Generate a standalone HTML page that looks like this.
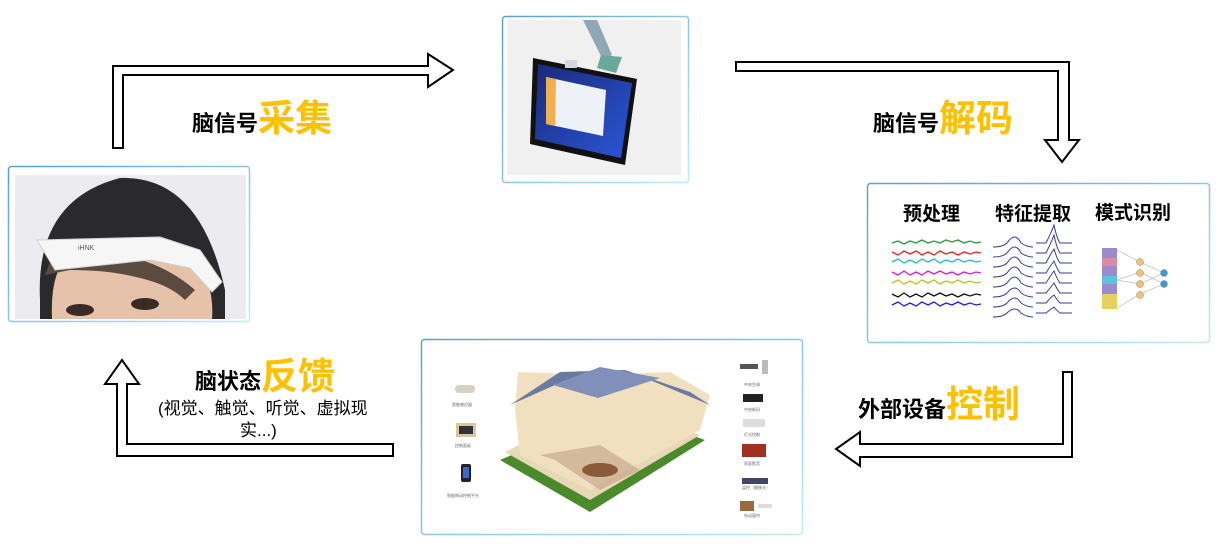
<!DOCTYPE html>
<html><head><meta charset="utf-8"><style>
html,body{margin:0;padding:0;background:#fff;}
svg{display:block;}
text{font-family:"Liberation Sans","Noto Sans CJK SC",sans-serif;}
</style></head><body>
<svg width="1227" height="548" viewBox="0 0 1227 548" xmlns="http://www.w3.org/2000/svg">
<defs>
<linearGradient id="bd" x1="0" y1="0" x2="1" y2="1"><stop offset="0" stop-color="#5aa0d0"/><stop offset="1" stop-color="#bfeafc"/></linearGradient>
<linearGradient id="scr" x1="0" y1="0" x2="1" y2="1"><stop offset="0" stop-color="#1a2a7a"/><stop offset="1" stop-color="#2b56d8"/></linearGradient>
</defs>
<!-- arrows -->
<g fill="#fff" stroke="#000" stroke-width="2">
<polygon points="113,148 113,66 428,66 428,54 453,70 428,87 428,75 123,75 123,148"/>
<polygon points="736,62 1069,62 1069,140 1079,140 1062,162 1045,140 1058,140 1058,71 736,71"/>
<polygon points="1063,372 1072,372 1072,457 860,457 860,466 836,449 860,432 860,444 1063,444"/>
<polygon points="393,444 127,444 127,384 139,384 122,360 105,384 117,384 117,456 393,456"/>
</g>
<!-- face box -->
<rect x="8.5" y="166.5" width="241" height="155" rx="3" fill="#fff" stroke="url(#bd)" stroke-width="1.5"/>
<rect x="15" y="175" width="231" height="144" fill="#ececf0"/>
<clipPath id="fc"><rect x="15" y="175" width="231" height="144"/></clipPath>
<g clip-path="url(#fc)">
<path d="M40,300 Q35,200 120,178 Q200,175 225,290 L225,319 L40,319 Z" fill="#2a2a2c"/>
<path d="M52,319 Q50,270 70,255 L190,255 Q215,280 212,319 Z" fill="#e6c2aa"/>
<path d="M50,262 Q110,250 135,258 Q170,268 195,290 L185,300 Q170,285 140,278 Q110,270 70,270 L45,275 Z" fill="#5a4a40"/>
<path d="M37,240 L160,237 L200,250 L222,282 L212,292 L190,268 L150,260 L55,270 Z" fill="#f6f6f6" stroke="#d0d0d0"/>
<text x="78" y="250" font-size="7" fill="#555">iHNK</text>
<ellipse cx="80" cy="310" rx="14" ry="6" fill="#3a2a25"/>
<ellipse cx="145" cy="304" rx="14" ry="6" fill="#3a2a25"/>
</g>
<!-- tablet box -->
<rect x="502.5" y="16.5" width="186" height="166" rx="3" fill="#fff" stroke="url(#bd)" stroke-width="1.5"/>
<rect x="507" y="20" width="174" height="155" fill="#f0f0f0"/>
<polygon points="583,20 597,20 612,55 603,60" fill="#8fa8b4"/>
<polygon points="601,55 622,57 616,73 597,68" fill="#6aa89c"/>
<polygon points="533,58 637,79 625,165 530,144" fill="#111"/>
<polygon points="538,64 632,83 621,158 535,139" fill="url(#scr)"/>
<polygon points="546,77 606,90 603,136 546,124" fill="#eef2f8"/>
<polygon points="546,77 556,79 555,126 546,124" fill="#f0b050"/>
<rect x="565" y="60" width="12" height="8" fill="#cfd8e0"/>
<!-- decode box -->
<rect x="867.5" y="183.5" width="342" height="159" rx="3" fill="#fff" stroke="url(#bd)" stroke-width="1.5"/>
<text x="903" y="220" font-size="19" font-weight="bold" fill="#000">预处理</text>
<text x="995" y="220" font-size="19" font-weight="bold" fill="#000">特征提取</text>
<text x="1095" y="219" font-size="19" font-weight="bold" fill="#000">模式识别</text>
<g fill="none" stroke-width="1.3">
<path d="M892,243 l6,-2 6,3 6,-3 6,2 6,-3 6,3 6,-2 6,2 6,-3 6,2 6,-2 6,3 6,-2 6,2 5,-1" stroke="#2a9a3a"/>
<path d="M892,252 l6,3 6,-4 6,3 6,-3 6,4 6,-3 6,3 6,-4 6,3 6,-2 6,3 6,-3 6,2 6,-2 5,1" stroke="#f02020"/>
<path d="M892,262 l6,-3 6,4 6,-3 6,3 6,-4 6,3 6,-3 6,4 6,-3 6,2 6,-3 6,3 6,-2 6,2 5,-1" stroke="#20c0c0"/>
<path d="M892,272 l6,3 6,-4 6,4 6,-3 6,3 6,-4 6,3 6,-3 6,3 6,-2 6,3 6,-3 6,2 6,-2 5,1" stroke="#d020d0"/>
<path d="M892,283 l6,-3 6,4 6,-3 6,3 6,-4 6,3 6,-3 6,4 6,-3 6,2 6,-3 6,3 6,-2 6,2 5,-1" stroke="#c0c020"/>
<path d="M892,294 l6,3 6,-4 6,4 6,-3 6,3 6,-4 6,3 6,-3 6,3 6,-2 6,3 6,-3 6,2 6,-2 5,1" stroke="#111"/>
<path d="M892,305 l6,-3 6,4 6,-3 6,3 6,-4 6,3 6,-3 6,4 6,-3 6,2 6,-3 6,3 6,-2 6,2 5,-1" stroke="#2020e0"/>
</g>
<g fill="none" stroke="#3a3a9a" stroke-width="1">
<path d="M993,247 q10,0 14,-4 q8,-12 14,0 q6,4 12,4 M1036,243 l10,0 q5,-10 8,-18 q3,14 6,18 l12,0"/>
<path d="M993,257 q10,0 14,-4 q8,-12 14,0 q6,4 12,4 M1036,253 l10,0 q5,-10 8,-18 q3,14 6,18 l12,0"/>
<path d="M993,267 q10,0 14,-4 q8,-12 14,0 q6,4 12,4 M1036,263 l10,0 q5,-10 8,-14 q3,10 6,14 l12,0"/>
<path d="M993,277 q10,0 14,-4 q8,-12 14,0 q6,4 12,4 M1036,273 l10,0 q5,-8 8,-12 q3,8 6,12 l12,0"/>
<path d="M993,287 q10,0 14,-4 q8,-12 14,0 q6,4 12,4 M1036,283 l10,0 q5,-8 8,-12 q3,8 6,12 l12,0"/>
<path d="M993,297 q10,0 14,-4 q8,-10 14,0 q6,4 12,4 M1036,293 l10,0 q5,-6 8,-10 q3,6 6,10 l12,0"/>
<path d="M993,307 q10,0 14,-4 q8,-10 14,0 q6,4 12,4 M1036,303 l10,0 q5,-6 8,-8 q3,5 6,8 l12,0"/>
<path d="M993,317 q10,0 14,-4 q8,-8 14,0 q6,4 12,4 M1036,313 l10,0 q5,-4 8,-6 q3,4 6,6 l12,0"/>
</g>
<rect x="1102" y="248" width="15" height="61" fill="#9a8ad0"/>
<rect x="1102" y="258" width="15" height="8" fill="#e08aa0"/>
<rect x="1102" y="276" width="15" height="8" fill="#60c0e0"/>
<rect x="1102" y="294" width="15" height="15" fill="#e8d060"/>
<g stroke="#999" stroke-width="0.5">
<path d="M1117,250 L1140,262 M1117,308 L1140,294 M1117,280 L1140,272 M1117,280 L1140,284 M1140,262 L1164,273 M1140,294 L1164,284 M1140,272 L1164,284 M1140,284 L1164,273"/>
</g>
<g fill="#f4c070" stroke="#888" stroke-width="0.5">
<circle cx="1140" cy="262" r="3.5"/><circle cx="1140" cy="273" r="3.5"/><circle cx="1140" cy="284" r="3.5"/><circle cx="1140" cy="295" r="3.5"/>
<circle cx="1164" cy="273" r="3.5" fill="#3a9ad0"/><circle cx="1164" cy="284" r="3.5" fill="#3a9ad0"/>
</g>
<!-- house box -->
<rect x="421.5" y="339.5" width="381" height="195" rx="3" fill="#fff" stroke="url(#bd)" stroke-width="1.5"/>
<polygon points="500,460 590,512 705,440 620,410" fill="#4a8a2a"/>
<polygon points="505,452 590,500 700,435 610,400" fill="#e8d8b8"/>
<polygon points="518,372 600,375 670,372 710,395 700,430 590,490 520,455 515,410" fill="#f0e0c0"/>
<polygon points="510,405 560,372 625,370 690,392 710,405 650,380 555,385" fill="#6a7aa0"/>
<polygon points="553,385 600,367 660,378 598,398" fill="#8090b8"/>
<polygon points="540,455 555,460 600,490 640,470 600,445" fill="#c0a080" opacity="0.6"/>
<ellipse cx="600" cy="470" rx="18" ry="7" fill="#8a5a3a"/>
<g fill="#555"><rect x="455" y="385" width="20" height="8" rx="4" fill="#d8d0c0"/>
<rect x="456" y="423" width="20" height="14" fill="#d8c8a0"/><rect x="459" y="426" width="14" height="8" fill="#333"/>
<rect x="461" y="464" width="10" height="18" rx="2" fill="#222"/><rect x="463" y="467" width="6" height="11" fill="#3a6ad0"/>
<rect x="740" y="364" width="18" height="5"/><rect x="762" y="360" width="6" height="14" fill="#bbb"/>
<rect x="743" y="394" width="20" height="8" fill="#222"/>
<rect x="743" y="419" width="22" height="8" fill="#ddd"/>
<rect x="742" y="444" width="24" height="13" fill="#a03020"/>
<rect x="742" y="478" width="26" height="6" fill="#446"/>
<rect x="740" y="501" width="14" height="10" fill="#9a6a3a"/><rect x="758" y="504" width="14" height="4" fill="#ddd"/>
</g>
<g fill="#666" font-size="4">
<text x="452" y="406">智能感应器</text><text x="455" y="447">控制面板</text><text x="447" y="497">智能移动控制平台</text>
<text x="744" y="386">中央空调</text><text x="744" y="411">中央新风</text><text x="744" y="436">灯光控制</text><text x="744" y="465">家庭影音</text><text x="742" y="489">监控（摄像头）</text><text x="744" y="517">电动窗帘</text>
</g>
<!-- labels -->
<text x="192" y="131" font-size="22" font-weight="bold" fill="#000">脑信号<tspan font-size="37" fill="#ffc000">采集</tspan></text>
<text x="873" y="131" font-size="22" font-weight="bold" fill="#000">脑信号<tspan font-size="37" fill="#ffc000">解码</tspan></text>
<text x="858" y="417" font-size="22" font-weight="bold" fill="#000">外部设备<tspan font-size="37" fill="#ffc000">控制</tspan></text>
<text x="195" y="389" font-size="22" font-weight="bold" fill="#000">脑状态<tspan font-size="37" fill="#ffc000">反馈</tspan></text>
<text x="158" y="414" font-size="17" fill="#000">(视觉、触觉、听觉、虚拟现</text>
<text x="240" y="436" font-size="17" fill="#000">实...)</text>
</svg>
</body></html>
